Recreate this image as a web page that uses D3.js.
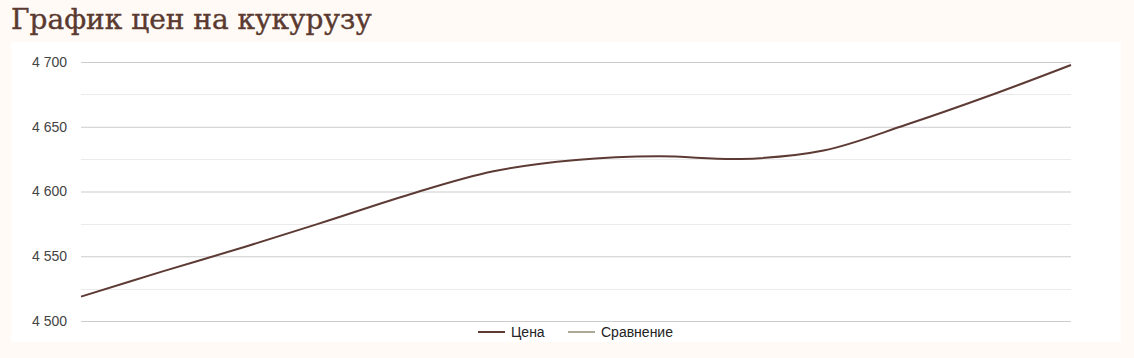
<!DOCTYPE html>
<html>
<head>
<meta charset="utf-8">
<script src="https://cdn.jsdelivr.net/npm/d3@7"></script>
<style>
  html, body { margin: 0; padding: 0; background: #fffaf6; }
  svg { display: block; }
</style>
</head>
<body>
<svg id="chart" width="1134" height="358"></svg>
<script>
// chart data
var title = "График цен на кукурузу";
var weeks = ["1", "2", "3", "4", "5", "6", "7", "8", "9", "10", "11", "12", "13"];
var prices = [4518.8, 4538.5, 4557.5, 4577.6, 4598.1, 4615.6, 4624.3, 4627.2, 4625.1, 4631.6, 4651.5, 4673.7, 4697.7];
var yTicks = [4500, 4550, 4600, 4650, 4700];
var yMinorTicks = [4525, 4575, 4625, 4675];
var legendItems = [
  {name: "Цена", color: "#5d3b34"},
  {name: "Сравнение", color: "#a9a995"}
];

var svg = d3.select("#chart");

// white panel behind the plot
svg.append("rect")
  .attr("x", 11).attr("y", 42)
  .attr("width", 1110).attr("height", 300)
  .style("fill", "#ffffff");

// title
svg.append("text")
  .attr("x", 11).attr("y", 29)
  .style("font-family", "'DejaVu Serif', serif")
  .style("font-size", "28px")
  .style("fill", "#5a3a30")
  .style("stroke", "#5a3a30")
  .style("stroke-width", 0.4)
  .text(title);

var x = d3.scalePoint().domain(weeks).range([81, 1071]);
var y = d3.scaleLinear().domain([4500, 4700]).range([321, 62]);

var fmt = function(v){ return d3.format(",")(v).replace(/,/g, " "); };

// minor gridlines
svg.selectAll(".minor").data(yMinorTicks).enter().append("line")
  .attr("class", "minor")
  .attr("x1", 81).attr("x2", 1071)
  .attr("y1", function(d){ return Math.round(y(d)) + 0.5; })
  .attr("y2", function(d){ return Math.round(y(d)) + 0.5; })
  .style("stroke", "#ebebeb").style("stroke-width", 1);

// y axis with major gridlines
var yAxis = d3.axisLeft(y).tickValues(yTicks).tickSize(-990).tickPadding(14).tickFormat(fmt);
var gy = svg.append("g").attr("transform", "translate(81,0)").call(yAxis);
gy.select(".domain").remove();
gy.selectAll(".tick line").style("stroke", "#cccccc");
gy.selectAll(".tick text")
  .style("font-family", "Arial, 'Liberation Sans', sans-serif")
  .style("font-size", "14px")
  .style("fill", "#444444");

// price line
var line = d3.line()
  .x(function(d, i){ return x(weeks[i]); })
  .y(function(d){ return y(d); })
  .curve(d3.curveCatmullRom.alpha(0.5));

svg.append("path")
  .datum(prices)
  .attr("d", line)
  .style("fill", "none")
  .style("stroke", legendItems[0].color)
  .style("stroke-width", 2);

// legend
var legendX = [478, 568];
var lg = svg.selectAll(".legend").data(legendItems).enter().append("g")
  .attr("class", "legend")
  .attr("transform", function(d, i){ return "translate(" + legendX[i] + ",332)"; });
lg.append("line")
  .attr("x1", 0).attr("x2", 27)
  .style("stroke", function(d){ return d.color; })
  .style("stroke-width", 2);
lg.append("text")
  .attr("x", 33).attr("dy", "0.35em")
  .style("font-family", "Arial, 'Liberation Sans', sans-serif")
  .style("font-size", "14px")
  .style("fill", "#222222")
  .text(function(d){ return d.name; });
</script>
</body>
</html>
